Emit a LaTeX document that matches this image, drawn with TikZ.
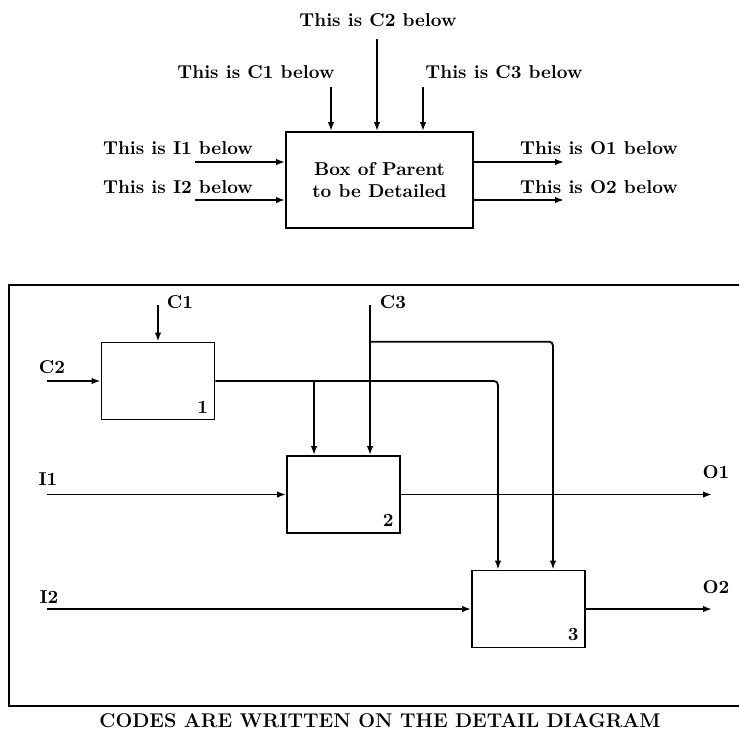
\documentclass[tikz,border=0pt]{standalone}
\usepackage{tikz}
\usetikzlibrary{arrows.meta, positioning, calc}

\begin{document}
\begin{tikzpicture}[x=0.2mm, y=-0.2mm,
    every node/.style={font=\fontsize{10.6}{12.8}\selectfont\bfseries},
    box/.style={draw, line width=1pt, minimum width=22.6mm, minimum height=15.4mm, inner sep=0pt},
    flow/.style={line width=1pt, -{Latex[length=1.8mm, width=1.3mm]}},
    wire/.style={line width=1pt},
    lbl/.style={inner sep=0pt}]
    \useasboundingbox (0,0) rectangle (739,735);

    % parent box with its arrows
    \node[box, minimum width=37.4mm, minimum height=19.2mm, align=center] (parent) at (379.5,180) {Box of Parent\\to be Detailed};

    \node[lbl] (c2lbl) at (378,20) {This is C2 below};
    \node[lbl] (c1lbl) at (256,72) {This is C1 below};
    \node[lbl] (c3lbl) at (504,72) {This is C3 below};
    \node[lbl] (i1lbl) at (178,148) {This is I1 below};
    \node[lbl] (i2lbl) at (178,187) {This is I2 below};
    \node[lbl] (o1lbl) at (599,148) {This is O1 below};
    \node[lbl] (o2lbl) at (599,187) {This is O2 below};

    \coordinate (c1top) at (331,87);
    \coordinate (c2top) at (377,39);
    \coordinate (c3top) at (423,87);
    \coordinate (i1end) at (195,162);
    \coordinate (i2end) at (195,200);
    \coordinate (o1end) at (564,162);
    \coordinate (o2end) at (564,200);

    \draw[flow] (c1top) -- (c1top |- parent.north);
    \draw[flow] (c2top) -- (c2top |- parent.north);
    \draw[flow] (c3top) -- (c3top |- parent.north);
    \draw[flow] (i1end) -- (i1end -| parent.west);
    \draw[flow] (i2end) -- (i2end -| parent.west);
    \draw[flow] (o1end -| parent.east) -- (o1end);
    \draw[flow] (o2end -| parent.east) -- (o2end);

    % detail diagram
    \draw[wire] (739,285) -- (9,285) -- (9,706) -- (739,706);

    \node[box, label={[anchor=south east, inner sep=4pt]south east:1}] (p1) at (158,381) {};
    \node[box, label={[anchor=south east, inner sep=4pt]south east:2}] (p2) at (343.5,494.5) {};
    \node[box, label={[anchor=south east, inner sep=4pt]south east:3}] (p3) at (528.5,609) {};

    \node[lbl] (c1) at (180,302) {C1};
    \node[lbl] (c2) at (52,367) {C2};
    \node[lbl] (c3) at (393,302) {C3};
    \node[lbl] (i1) at (48,479) {I1};
    \node[lbl] (i2) at (49,597) {I2};
    \node[lbl] (o1) at (716,472) {O1};
    \node[lbl] (o2) at (716,587) {O2};

    \coordinate (c1src) at (158,305);
    \coordinate (c2src) at (47,381);
    \coordinate (c3src) at (370,305);
    \coordinate (i1src) at (47,494.5);
    \coordinate (i2src) at (47,609);
    \coordinate (o1dst) at (712,494.5);
    \coordinate (o2dst) at (712,609);
    \coordinate (p2ctl) at ($(p2.north)+(-29.5,0)$);
    \coordinate (p3ctl) at ($(p3.north)+(-30.5,0)$);
    \coordinate (p3c3) at ($(p3.north)+(24.5,0)$);

    \draw[flow] (c1src) -- (p1.north);
    \draw[flow] (c2src) -- (p1.west);
    \draw[flow] (c3src) -- (c3src |- p2.north);
    \draw[flow, rounded corners=0.8mm] (c3src |- p1.north) -| (p3c3);
    \draw[flow, rounded corners=0.8mm] (p1.east) -| (p3ctl);
    \draw[flow] (p2ctl |- p1.east) -- (p2ctl);
    \draw[flow] (i1src) -- (p2.west);
    \draw[flow] (i2src) -- (p3.west);
    \draw[flow] (p2.east) -- (o1dst);
    \draw[flow] (p3.east) -- (o2dst);

    \node[lbl, font=\fontsize{11.3}{13.5}\selectfont\bfseries] (caption) at (380,721) {CODES ARE WRITTEN ON THE DETAIL DIAGRAM};
\end{tikzpicture}
\end{document}
